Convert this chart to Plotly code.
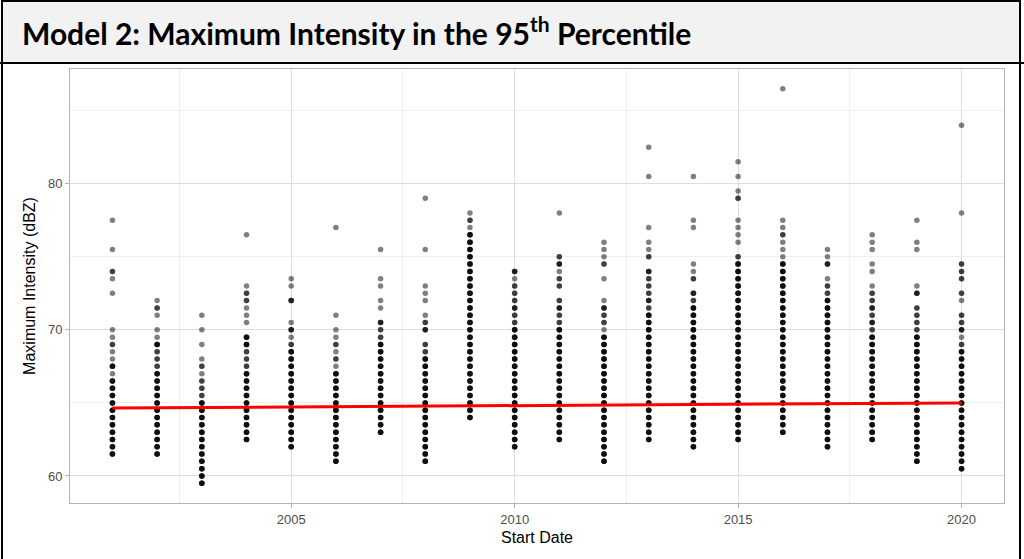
import plotly.graph_objects as go

# Start years of the storm events
years = list(range(2001, 2021))

# Maximum intensity (dBZ) -> number of events with that value, per start year
events_2001 = {77.5: 1, 75.5: 1, 74: 2, 73.5: 1, 72.5: 1, 70: 1, 69.5: 1, 69: 2, 68.5: 1, 68: 1,
               67.5: 4, 67: 1, 66.5: 4, 66: 4, 65.5: 4, 65: 4, 64.5: 4, 64: 4, 63.5: 4, 63: 4,
               62.5: 4, 62: 4, 61.5: 4}
events_2002 = {72: 1, 71.5: 2, 71: 1, 70: 1, 69.5: 1, 69: 4, 68.5: 2, 68: 2, 67.5: 2, 67: 4,
               66.5: 4, 66: 4, 65.5: 4, 65: 4, 64.5: 4, 64: 4, 63.5: 4, 63: 4, 62.5: 4, 62: 4,
               61.5: 4}
events_2003 = {71: 1, 70: 1, 69: 1, 68: 1, 67.5: 2, 67: 1, 66.5: 2, 66: 2, 65.5: 2, 65: 4,
               64.5: 4, 64: 4, 63.5: 4, 63: 4, 62.5: 4, 62: 4, 61.5: 4, 61: 4, 60.5: 4, 60: 4,
               59.5: 4}
events_2004 = {76.5: 1, 73: 1, 72.5: 2, 72: 2, 71.5: 1, 71: 1, 70.5: 1, 69.5: 4, 69: 4, 68.5: 2,
               68: 2, 67.5: 2, 67: 4, 66.5: 4, 66: 4, 65.5: 4, 65: 4, 64.5: 4, 64: 4, 63.5: 4,
               63: 4, 62.5: 4}
events_2005 = {73.5: 1, 73: 1, 72: 3, 70.5: 1, 70: 3, 69.5: 1, 69: 2, 68.5: 4, 68: 4, 67.5: 4,
               67: 4, 66.5: 4, 66: 4, 65.5: 4, 65: 4, 64.5: 4, 64: 4, 63.5: 4, 63: 4, 62.5: 4,
               62: 4}
events_2006 = {77: 1, 71: 1, 70: 1, 69.5: 1, 69: 2, 68.5: 1, 68: 2, 67.5: 1, 67: 4, 66.5: 4,
               66: 4, 65.5: 4, 65: 4, 64.5: 4, 64: 4, 63.5: 4, 63: 4, 62.5: 4, 62: 4, 61.5: 4,
               61: 4}
events_2007 = {75.5: 1, 73.5: 1, 73: 1, 72: 1, 71.5: 1, 70.5: 3, 70: 2, 69.5: 2, 69: 4, 68.5: 4,
               68: 4, 67.5: 4, 67: 4, 66.5: 4, 66: 4, 65.5: 4, 65: 4, 64.5: 4, 64: 4, 63.5: 4,
               63: 4}
events_2008 = {79: 1, 75.5: 1, 73: 1, 72.5: 1, 72: 1, 71: 1, 70.5: 2, 70: 3, 69: 2, 68.5: 2,
               68: 4, 67.5: 4, 67: 4, 66.5: 4, 66: 4, 65.5: 4, 65: 4, 64.5: 4, 64: 4, 63.5: 4,
               63: 4, 62.5: 4, 62: 4, 61.5: 4, 61: 4}
events_2009 = {78: 1, 77.5: 2, 77: 1, 76.5: 4, 76: 4, 75.5: 4, 75: 4, 74.5: 4, 74: 4, 73.5: 4,
               73: 4, 72.5: 4, 72: 4, 71.5: 4, 71: 4, 70.5: 4, 70: 4, 69.5: 4, 69: 4, 68.5: 4,
               68: 4, 67.5: 4, 67: 4, 66.5: 4, 66: 4, 65.5: 4, 65: 4, 64.5: 4, 64: 4}
events_2010 = {74: 3, 73.5: 1, 73: 2, 72.5: 2, 72: 2, 71.5: 3, 71: 2, 70.5: 2, 70: 4, 69.5: 4,
               69: 4, 68.5: 4, 68: 4, 67.5: 4, 67: 4, 66.5: 4, 66: 4, 65.5: 4, 65: 4, 64.5: 4,
               64: 4, 63.5: 4, 63: 4, 62.5: 4, 62: 4}
events_2011 = {78: 1, 75: 2, 74.5: 3, 74: 1, 73.5: 2, 73: 2, 72: 2, 71.5: 3, 71: 2, 70.5: 2,
               70: 4, 69.5: 4, 69: 4, 68.5: 4, 68: 4, 67.5: 4, 67: 4, 66.5: 4, 66: 4, 65.5: 4,
               65: 4, 64.5: 4, 64: 4, 63.5: 4, 63: 4, 62.5: 4}
events_2012 = {76: 1, 75.5: 1, 75: 1, 74.5: 2, 73.5: 1, 72: 1, 71.5: 3, 71: 2, 70.5: 2, 70: 1,
               69.5: 4, 69: 4, 68.5: 4, 68: 4, 67.5: 4, 67: 4, 66.5: 4, 66: 4, 65.5: 4, 65: 4,
               64.5: 4, 64: 4, 63.5: 4, 63: 4, 62.5: 4, 62: 4, 61.5: 4, 61: 4}
events_2013 = {82.5: 1, 80.5: 1, 77: 1, 76: 1, 75.5: 1, 75: 2, 74: 3, 73.5: 2, 73: 2, 72.5: 2,
               72: 3, 71.5: 2, 71: 4, 70.5: 4, 70: 4, 69.5: 4, 69: 4, 68.5: 4, 68: 4, 67.5: 4,
               67: 4, 66.5: 4, 66: 4, 65.5: 4, 65: 4, 64.5: 4, 64: 4, 63.5: 4, 63: 4, 62.5: 4}
events_2014 = {80.5: 1, 77.5: 1, 77: 1, 74.5: 1, 74: 1, 73.5: 2, 72.5: 3, 72: 2, 71.5: 4, 71: 4,
               70.5: 4, 70: 4, 69.5: 4, 69: 4, 68.5: 4, 68: 4, 67.5: 4, 67: 4, 66.5: 4, 66: 4,
               65.5: 4, 65: 4, 64.5: 4, 64: 4, 63.5: 4, 63: 4, 62.5: 4, 62: 4}
events_2015 = {81.5: 1, 80.5: 1, 79.5: 1, 79: 2, 77.5: 1, 77: 1, 76.5: 1, 76: 1, 75: 2, 74.5: 4,
               74: 4, 73.5: 4, 73: 4, 72.5: 4, 72: 4, 71.5: 4, 71: 4, 70.5: 4, 70: 4, 69.5: 4,
               69: 4, 68.5: 4, 68: 4, 67.5: 4, 67: 4, 66.5: 4, 66: 4, 65.5: 4, 65: 4, 64.5: 4,
               64: 4, 63.5: 4, 63: 4, 62.5: 4}
events_2016 = {86.5: 1, 77.5: 1, 77: 1, 76.5: 2, 76: 1, 75.5: 1, 75: 1, 74.5: 4, 74: 4, 73.5: 4,
               73: 4, 72.5: 4, 72: 4, 71.5: 4, 71: 4, 70.5: 4, 70: 4, 69.5: 4, 69: 4, 68.5: 4,
               68: 4, 67.5: 4, 67: 4, 66.5: 4, 66: 4, 65.5: 4, 65: 4, 64.5: 4, 64: 4, 63.5: 4,
               63: 4}
events_2017 = {75.5: 1, 75: 1, 74.5: 3, 73.5: 1, 73: 2, 72.5: 2, 72: 4, 71.5: 4, 71: 4, 70.5: 4,
               70: 4, 69.5: 4, 69: 4, 68.5: 4, 68: 4, 67.5: 4, 67: 4, 66.5: 4, 66: 4, 65.5: 4,
               65: 4, 64.5: 4, 64: 4, 63.5: 4, 63: 4, 62.5: 4, 62: 4}
events_2018 = {76.5: 1, 76: 1, 75.5: 1, 74.5: 1, 74: 1, 73: 1, 72.5: 2, 72: 2, 71.5: 3, 71: 2,
               70.5: 3, 70: 2, 69.5: 4, 69: 4, 68.5: 4, 68: 4, 67.5: 4, 67: 4, 66.5: 4, 66: 4,
               65.5: 4, 65: 4, 64.5: 4, 64: 4, 63.5: 4, 63: 4, 62.5: 4}
events_2019 = {77.5: 1, 76: 1, 75.5: 1, 73: 1, 72.5: 3, 71.5: 2, 71: 2, 70.5: 2, 70: 2, 69.5: 4,
               69: 4, 68.5: 4, 68: 4, 67.5: 4, 67: 4, 66.5: 4, 66: 4, 65.5: 4, 65: 4, 64.5: 4,
               64: 4, 63.5: 4, 63: 4, 62.5: 4, 62: 4, 61.5: 4, 61: 4}
events_2020 = {84: 1, 78: 1, 74.5: 2, 74: 2, 73.5: 2, 72.5: 2, 72: 1, 71: 2, 70.5: 2, 70: 3,
               69.5: 1, 69: 2, 68.5: 4, 68: 4, 67.5: 4, 67: 4, 66.5: 4, 66: 4, 65.5: 4, 65: 4,
               64.5: 4, 64: 4, 63.5: 4, 63: 4, 62.5: 4, 62: 4, 61.5: 4, 61: 4, 60.5: 4}

# Fitted trend of the model at the first and last start year
trend_years = [2001, 2020]
trend_values = [64.65, 65.0]

x_ticks = [2005, 2010, 2015, 2020]
y_ticks = [60, 70, 80]

events_by_year = [events_2001, events_2002, events_2003, events_2004, events_2005,
                  events_2006, events_2007, events_2008, events_2009, events_2010,
                  events_2011, events_2012, events_2013, events_2014, events_2015,
                  events_2016, events_2017, events_2018, events_2019, events_2020]

# One marker per event; semi-transparent markers stack up where values repeat
xs, ys = [], []
for yr, counts in zip(years, events_by_year):
    for value, n in counts.items():
        xs.extend([yr] * n)
        ys.extend([value] * n)

# Page geometry (pixels) and the plotting panel inside it
W, H = 1024, 559
ML, MR, MT, MB = 70, 20, 69, 56
PW, PH = W - ML - MR, H - MT - MB


def px(x):
    return (x - ML) / PW


def py(y):
    return (H - MB - y) / PH


AXIS_FONT = "Liberation Sans, Arial, sans-serif"

fig = go.Figure()
fig.add_trace(go.Scatter(
    x=xs, y=ys, mode="markers",
    marker=dict(color="black", size=5.5, opacity=0.5, line=dict(width=0)),
    hoverinfo="skip", showlegend=False,
))
fig.add_trace(go.Scatter(
    x=trend_years, y=trend_values, mode="lines",
    line=dict(color="#ff0000", width=3),
    hoverinfo="skip", showlegend=False,
))

shapes = [
    # title band
    dict(type="rect", xref="paper", yref="paper", layer="below",
         x0=px(2), x1=px(1020), y0=py(63), y1=py(1),
         fillcolor="#f2f2f2", line=dict(width=0)),
    # frame lines
    dict(type="line", xref="paper", yref="paper", x0=px(1), x1=px(1021), y0=py(1), y1=py(1),
         line=dict(color="black", width=2)),
    dict(type="line", xref="paper", yref="paper", x0=px(0), x1=px(1024), y0=py(63), y1=py(63),
         line=dict(color="black", width=2)),
    dict(type="line", xref="paper", yref="paper", x0=px(2), x1=px(2), y0=py(0), y1=py(559),
         line=dict(color="black", width=2)),
    dict(type="line", xref="paper", yref="paper", x0=px(1020), x1=px(1020), y0=py(0), y1=py(559),
         line=dict(color="black", width=2)),
]

fig.update_layout(
    width=W, height=H,
    margin=dict(l=ML, r=MR, t=MT, b=MB, pad=0),
    paper_bgcolor="white", plot_bgcolor="white",
    shapes=shapes,
    annotations=[dict(
        text="<b>Model 2: Maximum Intensity in the 95<sup>th</sup> Percentile</b>",
        xref="paper", yref="paper", x=px(20), y=py(31),
        xanchor="left", yanchor="middle", showarrow=False,
        font=dict(family="Lato, sans-serif", size=30, color="black"),
    )],
)

fig.update_xaxes(
    range=[2000.05, 2020.95], tickvals=x_ticks, ticktext=[str(v) for v in x_ticks],
    showgrid=True, gridcolor="#dedede", gridwidth=1,
    minor=dict(dtick=2.5, tick0=2000, showgrid=True, gridcolor="#efefef", gridwidth=1, ticks=""),
    ticks="outside", ticklen=4, tickcolor="#b3b3b3", tickwidth=1,
    showline=True, linecolor="#b3b3b3", linewidth=1, mirror=True, zeroline=False,
    tickfont=dict(family=AXIS_FONT, size=13, color="#4d4d4d"),
    title=dict(text="Start Date", standoff=6,
               font=dict(family=AXIS_FONT, size=16, color="black")),
)
fig.update_yaxes(
    range=[58.15, 87.85], tickvals=y_ticks, ticktext=[str(v) for v in y_ticks],
    showgrid=True, gridcolor="#dedede", gridwidth=1,
    minor=dict(dtick=5, tick0=60, showgrid=True, gridcolor="#efefef", gridwidth=1, ticks=""),
    ticks="outside", ticklen=4, tickcolor="#b3b3b3", tickwidth=1,
    showline=True, linecolor="#b3b3b3", linewidth=1, mirror=True, zeroline=False,
    tickfont=dict(family=AXIS_FONT, size=13, color="#4d4d4d"),
    title=dict(text="Maximum Intensity (dBZ)", standoff=8,
               font=dict(family=AXIS_FONT, size=16, color="black")),
)

fig.write_html("out.html")
